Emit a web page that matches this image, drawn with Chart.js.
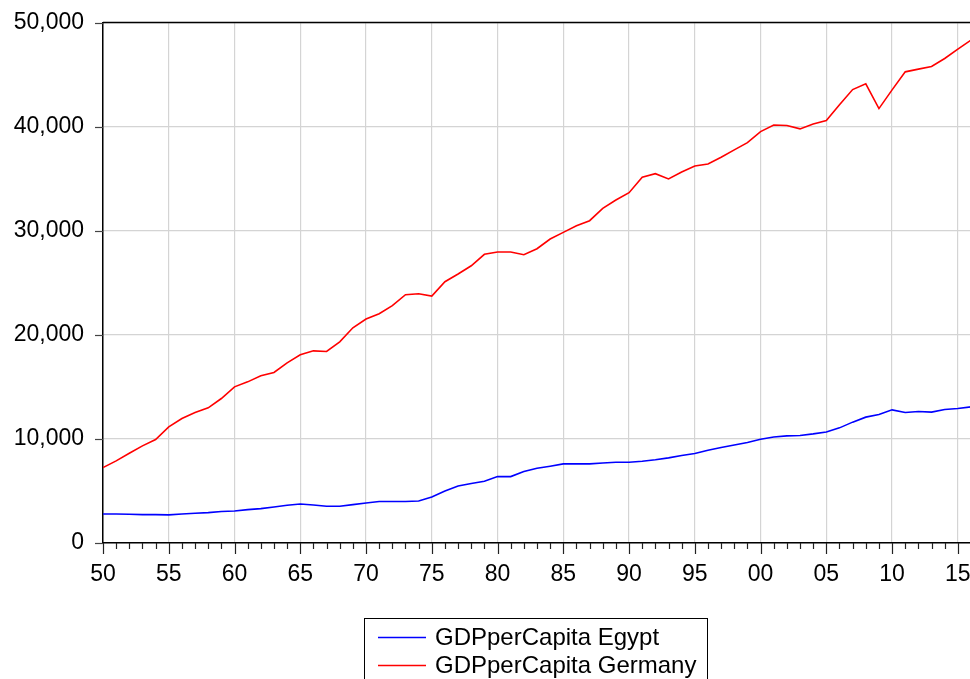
<!DOCTYPE html>
<html><head><meta charset="utf-8">
<script src="https://cdn.jsdelivr.net/npm/chart.js@4/dist/chart.umd.min.js"></script>
<style>
html,body{margin:0;padding:0;background:#fff;overflow:hidden;width:970px;height:679px}
#wrap{position:relative;width:971px;height:679px}
</style>
</head><body><div id="wrap"><canvas id="c" width="971" height="679"></canvas></div>
<script>
const years = [1950,1951,1952,1953,1954,1955,1956,1957,1958,1959,
  1960,1961,1962,1963,1964,1965,1966,1967,1968,1969,
  1970,1971,1972,1973,1974,1975,1976,1977,1978,1979,
  1980,1981,1982,1983,1984,1985,1986,1987,1988,1989,
  1990,1991,1992,1993,1994,1995,1996,1997,1998,1999,
  2000,2001,2002,2003,2004,2005,2006,2007,2008,2009,
  2010,2011,2012,2013,2014,2015,2016];
const egypt = [2790,2790,2760,2730,2730,2700,2790,2860,2920,3020,
  3080,3210,3300,3460,3620,3750,3650,3530,3530,3690,
  3850,3980,3980,3980,4040,4420,5000,5480,5710,5930,
  6380,6380,6860,7180,7380,7600,7600,7600,7690,7760,
  7760,7860,7990,8180,8400,8600,8910,9170,9420,9650,
  9970,10190,10290,10330,10480,10670,11060,11610,12090,12350,
  12790,12540,12630,12570,12830,12920,13080];
const germany = [7250,7885,8625,9330,9940,11150,11960,12540,12980,13880,
  15000,15480,16060,16380,17310,18080,18460,18400,19330,20670,
  21510,22020,22800,23850,23940,23720,25100,25840,26630,27730,
  27950,27950,27690,28270,29200,29840,30480,30960,32150,32950,
  33650,35130,35480,34970,35640,36220,36410,37050,37760,38460,
  39520,40160,40100,39780,40260,40580,42090,43560,44110,41730,
  43530,45260,45520,45770,46540,47440,48310];
const xTickYears = [1950,1955,1960,1965,1970,1975,1980,1985,1990,1995,2000,2005,2010,2015];
const xTickLabels = ['50','55','60','65','70','75','80','85','90','95','00','05','10','15'];
const yTickValues = [0,10000,20000,30000,40000,50000];
const yTickLabels = ['0','10,000','20,000','30,000','40,000','50,000'];
const seriesNames = ['GDPperCapita Egypt','GDPperCapita Germany'];
const seriesColors = ['#0000ff','#ff0000'];

const FONT = '"Liberation Sans", Arial, Helvetica, sans-serif';

const framePlugin = {
  id: 'frame',
  afterDraw(chart) {
    const ctx = chart.ctx, a = chart.chartArea;
    const xs = chart.scales.x, ys = chart.scales.y;
    ctx.save();
    // top border
    ctx.strokeStyle = '#000';
    ctx.lineWidth = 1.5;
    ctx.beginPath();
    ctx.moveTo(a.left, a.top); ctx.lineTo(a.right + 2, a.top);
    ctx.stroke();
    // x ticks
    ctx.strokeStyle = '#222';
    ctx.lineWidth = 1.2;
    years.forEach(yr => {
      const px = Math.round(xs.getPixelForValue(yr)) + 0.5;
      const len = xTickYears.includes(yr) ? 11 : 6;
      ctx.beginPath();
      ctx.moveTo(px, a.bottom); ctx.lineTo(px, a.bottom + len);
      ctx.stroke();
    });
    // y ticks
    ctx.strokeStyle = '#444';
    yTickValues.forEach(v => {
      const py = Math.round(ys.getPixelForValue(v)) + 0.5;
      ctx.beginPath();
      ctx.moveTo(a.left - 8, py); ctx.lineTo(a.left, py);
      ctx.stroke();
    });
    // legend
    const lx = 364.5, ly = 618.5, lw = 343, lh = 80;
    ctx.strokeStyle = '#000';
    ctx.lineWidth = 1;
    ctx.strokeRect(lx, ly, lw, lh);
    ctx.font = '24px ' + FONT;
    ctx.textBaseline = 'middle';
    ctx.textAlign = 'left';
    const rows = [637.5, 665.5];
    chart.data.datasets.forEach((ds, i) => {
      ctx.strokeStyle = ds.borderColor;
      ctx.lineWidth = 1.5;
      ctx.beginPath();
      ctx.moveTo(378, rows[i]); ctx.lineTo(426, rows[i]);
      ctx.stroke();
      ctx.fillStyle = '#000';
      ctx.fillText(ds.label, 435, rows[i] + 1);
    });
    ctx.restore();
  }
};

new Chart(document.getElementById('c'), {
  type: 'line',
  data: {
    datasets: [
      { label: seriesNames[0], data: years.map((y, i) => ({x: y, y: egypt[i]})),
        borderColor: seriesColors[0], backgroundColor: seriesColors[0] },
      { label: seriesNames[1], data: years.map((y, i) => ({x: y, y: germany[i]})),
        borderColor: seriesColors[1], backgroundColor: seriesColors[1] }
    ]
  },
  options: {
    responsive: false,
    animation: false,
    devicePixelRatio: 1,
    layout: { padding: { top: 22.5, left: 0, right: 0, bottom: 0 } },
    elements: { point: { radius: 0 }, line: { borderWidth: 1.6, tension: 0 } },
    plugins: { legend: { display: false }, tooltip: { enabled: false } },
    scales: {
      x: {
        type: 'linear', min: 1950, max: 2016,
        afterFit: s => { s.height = 136; s.paddingLeft = 0; s.paddingRight = 0; },
        afterBuildTicks: s => { s.ticks = years.map(v => ({value: v})); },
        ticks: {
          autoSkip: false, maxRotation: 0, minRotation: 0, padding: 18,
          color: '#000', font: { family: FONT, size: 23 },
          callback: v => { const k = xTickYears.indexOf(v); return k >= 0 ? xTickLabels[k] : ''; }
        },
        grid: {
          drawTicks: false, lineWidth: 1.2,
          color: c => (c.tick && xTickYears.includes(c.tick.value)) ? '#d4d4d4' : 'rgba(0,0,0,0)'
        },
        border: { color: '#000', width: 1.5 }
      },
      y: {
        min: 0, max: 50000,
        afterFit: s => { s.width = 103; s.paddingTop = 0; s.paddingBottom = 0; },
        afterBuildTicks: s => { s.ticks = yTickValues.map(v => ({value: v})); },
        ticks: {
          padding: 19, color: '#000', font: { family: FONT, size: 23 },
          callback: v => { const k = yTickValues.indexOf(v); return k >= 0 ? yTickLabels[k] : ''; }
        },
        grid: { drawTicks: false, lineWidth: 1.2, color: '#d4d4d4' },
        border: { color: '#000', width: 1.5 }
      }
    }
  },
  plugins: [framePlugin]
});
</script>
</body></html>
